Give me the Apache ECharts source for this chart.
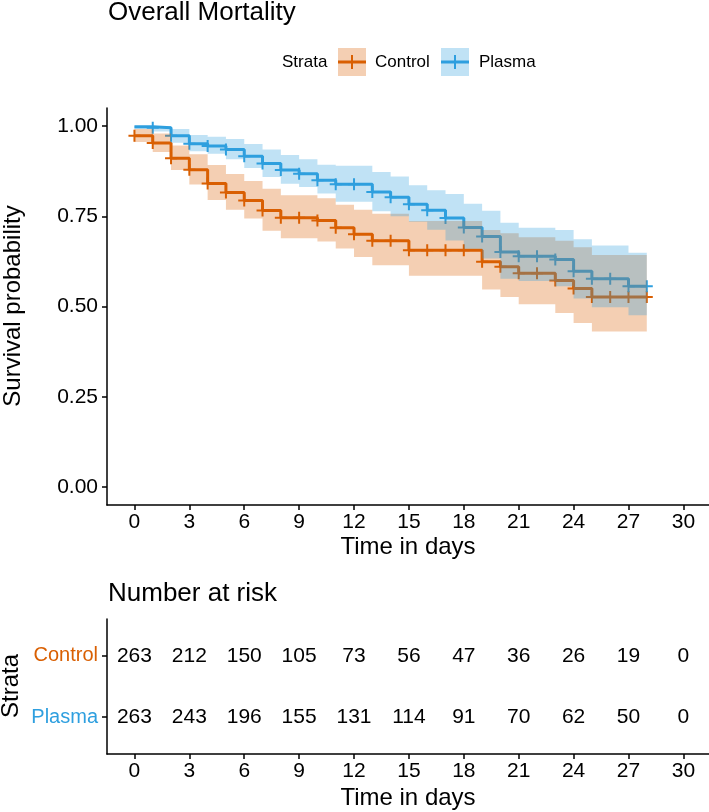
<!DOCTYPE html>
<html><head><meta charset="utf-8">
<script src="https://cdn.jsdelivr.net/npm/echarts@6/dist/echarts.min.js"></script>
<style>html,body{margin:0;padding:0;background:#fff}#c{width:709px;height:812px}</style>
</head><body><div id="c"></div>
<script>
// ---------- data ----------
const times = [0,1,2,3,4,5,6,7,8,9,10,11,12,13,14,15,16,17,18,19,20,21,22,23,24,25,26,27,28];
const controlSurv  = [0.973,0.953,0.911,0.879,0.841,0.816,0.794,0.766,0.746,0.746,0.738,0.718,0.700,0.682,0.682,0.656,0.656,0.656,0.656,0.624,0.610,0.592,0.592,0.572,0.550,0.526,0.526,0.526,0.526];
const controlUpper = [0.992,0.979,0.946,0.922,0.892,0.867,0.848,0.826,0.808,0.808,0.800,0.782,0.768,0.757,0.757,0.737,0.737,0.737,0.737,0.712,0.703,0.692,0.692,0.682,0.664,0.643,0.643,0.643,0.643];
const controlLower = [0.956,0.928,0.878,0.838,0.795,0.768,0.744,0.710,0.689,0.689,0.680,0.661,0.637,0.614,0.614,0.585,0.585,0.585,0.585,0.547,0.526,0.506,0.506,0.482,0.454,0.431,0.431,0.431,0.431];
const plasmaSurv   = [0.998,0.995,0.973,0.951,0.945,0.935,0.916,0.896,0.878,0.868,0.850,0.839,0.839,0.817,0.803,0.783,0.767,0.745,0.719,0.694,0.651,0.639,0.639,0.630,0.598,0.577,0.577,0.556,0.556];
const plasmaUpper  = [1.000,1.000,0.992,0.975,0.970,0.964,0.950,0.935,0.920,0.908,0.893,0.890,0.890,0.873,0.860,0.836,0.822,0.812,0.785,0.765,0.732,0.718,0.718,0.712,0.686,0.669,0.669,0.649,0.649];
const plasmaLower  = [0.992,0.985,0.954,0.930,0.923,0.908,0.884,0.859,0.840,0.831,0.813,0.790,0.790,0.764,0.750,0.735,0.713,0.683,0.660,0.633,0.577,0.571,0.571,0.556,0.522,0.498,0.498,0.476,0.476];
const controlCensor = [0,1,2,3,4,5,6,7,8,9,10,11,12,13,14,15,16,17,18,19,20,21,22,23,24,25,26,27,28];
const plasmaCensor  = [1,2,3,4,5,6,7,8,9,10,11,12,13,14,15,16,17,18,19,20,21,22,23,24,25,26,27,28];
const xTicks = [0,3,6,9,12,15,18,21,24,27,30];
const yTicks = [0,0.25,0.5,0.75,1];
const strata = ['Control','Plasma'];
const riskTimes = [0,3,6,9,12,15,18,21,24,27,30];
const controlRisk = [263,212,150,105,73,56,47,36,26,19,0];
const plasmaRisk  = [263,243,196,155,131,114,91,70,62,50,0];

// ---------- styling ----------
const FONT = '"Liberation Sans", Arial, sans-serif';
const C_OR = '#D95F02', C_BL = '#2E9FDF';
const pairs = (ts, vs) => ts.map((t, i) => [t, vs[i]]);
const plusPath = 'path://M-1,-6L1,-6L1,-1L6,-1L6,1L1,1L1,6L-1,6L-1,1L-6,1L-6,-1L-1,-1Z';
const rowY = {Control: 2, Plasma: 1};

const chart = echarts.init(document.getElementById('c'), null, {renderer: 'canvas'});

const axisLine = () => ({show: true, onZero: false, lineStyle: {color: '#000', width: 1.5}});
const tickStyle = {show: true, length: 5, lineStyle: {color: '#000', width: 1.5}};

// confidence band: one step-shaped polygon per stratum, positioned by the axis scales
function bandSeries(lower, upper, color) {
  return {
    type: 'custom', xAxisIndex: 0, yAxisIndex: 0, z: 4, silent: true,
    data: [[times[0], lower[0]]],
    renderItem: function (params, api) {
      const top = [], bot = [];
      for (let i = 0; i < times.length - 1; i++) {
        top.push(api.coord([times[i], upper[i]]), api.coord([times[i + 1], upper[i]]));
        bot.push(api.coord([times[i], lower[i]]), api.coord([times[i + 1], lower[i]]));
      }
      const pts = top.concat(bot.reverse());
      return {type: 'polygon', shape: {points: pts}, style: {fill: color, opacity: 0.3}};
    }
  };
}

function riskSeries(counts, row) {
  return {
    type: 'custom', xAxisIndex: 1, yAxisIndex: 1, z: 5, silent: true,
    data: counts.map((n, i) => [riskTimes[i], row, n]),
    renderItem: function (params, api) {
      const p = api.coord([api.value(0), api.value(1)]);
      return {type: 'text', x: p[0], y: p[1],
              style: {text: String(api.value(2)), fill: '#000', fontSize: 21, fontFamily: FONT,
                      align: 'center', verticalAlign: 'middle'}};
    }
  };
}

const option = {
  animation: false,
  backgroundColor: '#fff',
  textStyle: {fontFamily: FONT},
  grid: [
    {left: 107, right: 0, top: 108, height: 397},
    {left: 107, right: 0, top: 619, height: 135}
  ],
  xAxis: [
    {type: 'value', gridIndex: 0, min: -1.5, max: 31.4,
     axisLine: axisLine(), axisTick: Object.assign({customValues: xTicks}, tickStyle),
     axisLabel: {customValues: xTicks, color: '#000', fontSize: 21, margin: 7, fontFamily: FONT},
     splitLine: {show: false}},
    {type: 'value', gridIndex: 1, min: -1.5, max: 31.4,
     axisLine: axisLine(), axisTick: Object.assign({customValues: riskTimes}, tickStyle),
     axisLabel: {customValues: riskTimes, color: '#000', fontSize: 21, margin: 7, fontFamily: FONT},
     splitLine: {show: false}}
  ],
  yAxis: [
    {type: 'value', gridIndex: 0, min: -0.05, max: 1.05,
     axisLine: axisLine(), axisTick: Object.assign({customValues: yTicks}, tickStyle),
     axisLabel: {customValues: yTicks, color: '#000', fontSize: 21, margin: 9, fontFamily: FONT,
                 formatter: v => v.toFixed(2)},
     splitLine: {show: false}},
    {type: 'value', gridIndex: 1, min: 0.4, max: 2.6,
     axisLine: axisLine(), axisTick: Object.assign({customValues: [1, 2]}, tickStyle),
     axisLabel: {customValues: [1, 2], margin: 9, fontFamily: FONT,
                 formatter: v => v === rowY.Control ? '{c|' + strata[0] + '}' : '{p|' + strata[1] + '}',
                 rich: {c: {color: C_OR, fontSize: 20, fontFamily: FONT}, p: {color: C_BL, fontSize: 20, fontFamily: FONT}}},
     splitLine: {show: false}}
  ],
  series: [
    {type: 'line', name: 'Control', xAxisIndex: 0, yAxisIndex: 0, step: 'end', data: pairs(times, controlSurv),
     symbol: 'none', z: 2, lineStyle: {color: C_OR, width: 3}},
    {type: 'line', name: 'Plasma', xAxisIndex: 0, yAxisIndex: 0, step: 'end', data: pairs(times, plasmaSurv),
     symbol: 'none', z: 2, lineStyle: {color: C_BL, width: 3}},
    {type: 'scatter', xAxisIndex: 0, yAxisIndex: 0, z: 3, symbol: plusPath, symbolSize: 12,
     data: controlCensor.map(t => [t, controlSurv[times.indexOf(t)]]), itemStyle: {color: C_OR, opacity: 1}},
    {type: 'scatter', xAxisIndex: 0, yAxisIndex: 0, z: 3, symbol: plusPath, symbolSize: 12,
     data: plasmaCensor.map(t => [t, plasmaSurv[times.indexOf(t)]]), itemStyle: {color: C_BL, opacity: 1}},
    bandSeries(controlLower, controlUpper, C_OR),
    bandSeries(plasmaLower, plasmaUpper, C_BL),
    riskSeries(controlRisk, rowY.Control),
    riskSeries(plasmaRisk, rowY.Plasma)
  ],
  graphic: [
    {type: 'text', left: 108, top: 0, style: {text: 'Overall Mortality', fontSize: 26, fontFamily: FONT, fill: '#000'}},
    {type: 'text', x: 282, y: 62, style: {text: 'Strata', fontSize: 17, fontFamily: FONT, fill: '#000', verticalAlign: 'middle'}},
    {type: 'rect', shape: {x: 338, y: 48, width: 28, height: 28}, style: {fill: 'rgba(217,95,2,0.3)'}},
    {type: 'line', shape: {x1: 338, y1: 62, x2: 366, y2: 62}, style: {stroke: C_OR, lineWidth: 3}},
    {type: 'line', shape: {x1: 352, y1: 55, x2: 352, y2: 69}, style: {stroke: C_OR, lineWidth: 2}},
    {type: 'text', x: 375, y: 62, style: {text: 'Control', fontSize: 17, fontFamily: FONT, fill: '#000', verticalAlign: 'middle'}},
    {type: 'rect', shape: {x: 441, y: 48, width: 28, height: 28}, style: {fill: 'rgba(46,159,223,0.3)'}},
    {type: 'line', shape: {x1: 441, y1: 62, x2: 469, y2: 62}, style: {stroke: C_BL, lineWidth: 3}},
    {type: 'line', shape: {x1: 455, y1: 55, x2: 455, y2: 69}, style: {stroke: C_BL, lineWidth: 2}},
    {type: 'text', x: 479, y: 62, style: {text: 'Plasma', fontSize: 17, fontFamily: FONT, fill: '#000', verticalAlign: 'middle'}},
    {type: 'text', x: 13, y: 306, rotation: Math.PI / 2,
     style: {text: 'Survival probability', fontSize: 24, fontFamily: FONT, fill: '#000', align: 'center', verticalAlign: 'middle'}},
    {type: 'text', x: 408, y: 547,
     style: {text: 'Time in days', fontSize: 24, fontFamily: FONT, fill: '#000', align: 'center', verticalAlign: 'middle'}},
    {type: 'text', left: 108, top: 581, style: {text: 'Number at risk', fontSize: 26, fontFamily: FONT, fill: '#000'}},
    {type: 'text', x: 11, y: 686, rotation: Math.PI / 2,
     style: {text: 'Strata', fontSize: 24, fontFamily: FONT, fill: '#000', align: 'center', verticalAlign: 'middle'}},
    {type: 'text', x: 408, y: 798,
     style: {text: 'Time in days', fontSize: 24, fontFamily: FONT, fill: '#000', align: 'center', verticalAlign: 'middle'}}
  ]
};
chart.setOption(option);
</script>
</body></html>
